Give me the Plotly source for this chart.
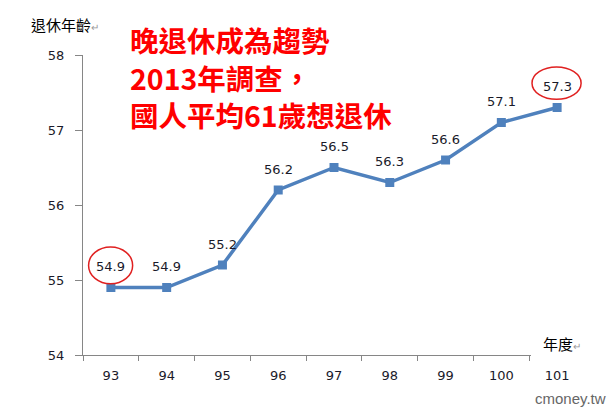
import plotly.graph_objects as go

years = ["93", "94", "95", "96", "97", "98", "99", "100", "101"]
ages = [54.9, 54.9, 55.2, 56.2, 56.5, 56.3, 56.6, 57.1, 57.3]
y_ticks = [54, 55, 56, 57, 58]
circled = ["93", "101"]

title_lines = ["晚退休成為趨勢", "2013年調查，", "國人平均61歲想退休"]

W, H = 615, 407
L, R, T, B = 83, 30, 55, 52

fig = go.Figure()
fig.add_trace(go.Scatter(
    x=years, y=ages, mode="lines+markers",
    line=dict(color="#4F81BD", width=3.5),
    marker=dict(symbol="square", size=9, color="#4F81BD"),
    hoverinfo="skip", showlegend=False,
))

num_font = "DejaVu Sans"
ann = []
for i, y in enumerate(ages):
    ann.append(dict(x=i, y=y, xref="x", yref="y", text=f"{y:.1f}", showarrow=False,
                    yshift=21, font=dict(family=num_font, size=13, color="#1a1a2a")))

shapes = []
for x in circled:
    i = years.index(x)
    if i == 0:
        x0, x1, y0, y1 = i - 0.40, i + 0.39, 54.95, 55.44
    else:
        x0, x1, y0, y1 = i - 0.45, i + 0.43, 57.41, 57.84
    shapes.append(dict(type="circle", xref="x", yref="y", x0=x0, x1=x1, y0=y0, y1=y1,
                       line=dict(color="#E02020", width=1.5)))

def px_x(p):
    return (p - L) / (W - L - R)

def px_y(p):
    return (H - B - p) / (H - T - B)

# white patch covering axis end (as in reference)
shapes.append(dict(type="rect", xref="paper", yref="paper",
                   x0=px_x(531), x1=1.05, y0=px_y(362), y1=px_y(349),
                   fillcolor="white", line=dict(width=0), layer="above"))

ys = [39, 77, 115]
for txt, yc in zip(title_lines, ys):
    ann.append(dict(x=px_x(128), y=px_y(yc), xref="paper", yref="paper", text=f"<b>{txt}</b>",
                    showarrow=False, xanchor="left", yanchor="middle",
                    font=dict(family="Noto Sans CJK TC", size=28.5, color="#FF0000")))

ann.append(dict(x=px_x(29), y=px_y(25), xref="paper", yref="paper", xanchor="left", yanchor="middle",
                text="退休年齡<span style='font-size:10px;color:#999'>↵</span>", showarrow=False,
                font=dict(family="Noto Sans CJK TC", size=15, color="#000")))
ann.append(dict(x=px_x(541), y=px_y(343), xref="paper", yref="paper", xanchor="left", yanchor="middle",
                text="年度<span style='font-size:10px;color:#999'>↵</span>", showarrow=False,
                font=dict(family="Noto Sans CJK TC", size=15, color="#000")))
ann.append(dict(x=px_x(608), y=px_y(398), xref="paper", yref="paper", xanchor="right", yanchor="middle",
                text="cmoney.tw", showarrow=False,
                font=dict(family="Liberation Sans", size=15, color="#666")))

fig.update_layout(
    width=W, height=H, margin=dict(l=L, r=R, t=T, b=B),
    paper_bgcolor="white", plot_bgcolor="white",
    annotations=ann, shapes=shapes,
    xaxis=dict(type="category", range=[-0.5, 8.5], showgrid=False, zeroline=False,
               showline=True, linecolor="#868686", linewidth=1,
               ticks="outside", ticklen=5, tickcolor="#868686", tickson="boundaries",
               ticklabelstandoff=8,
               tickfont=dict(family=num_font, size=13, color="#1a1a2a")),
    yaxis=dict(range=[54, 58], tickvals=y_ticks, showgrid=False, zeroline=False,
               showline=True, linecolor="#868686", linewidth=1,
               ticks="outside", ticklen=7, tickcolor="#868686",
               ticklabelstandoff=8,
               tickfont=dict(family=num_font, size=13, color="#1a1a2a")),
)

fig.write_html("out.html", config={"displayModeBar": False},
               post_script="document.body.style.margin='0';")
